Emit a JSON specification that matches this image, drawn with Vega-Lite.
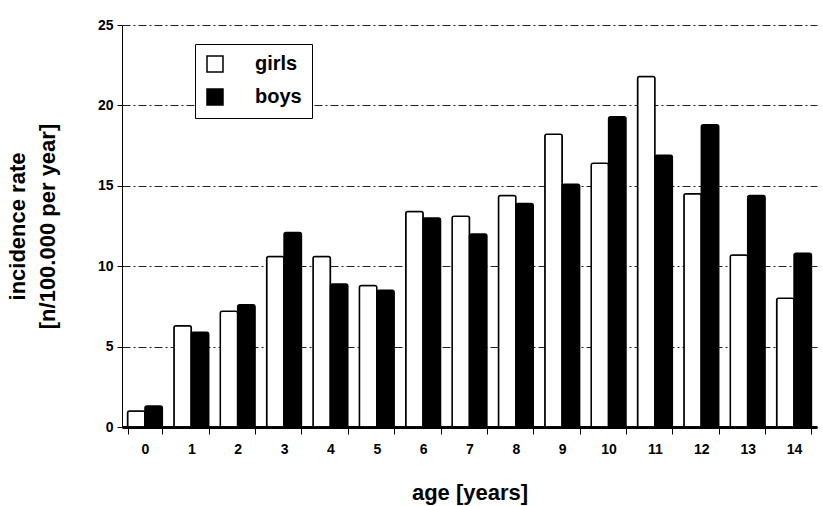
{
  "$schema": "https://vega.github.io/schema/vega-lite/v6.json",
  "width": 695,
  "height": 402,
  "autosize": {"type": "none"},
  "padding": {"left": 122, "top": 25, "right": 6, "bottom": 79},
  "background": "white",
  "config": {
    "font": "Liberation Sans",
    "view": {"stroke": null},
    "axis": {"labelFont": "Liberation Sans", "titleFont": "Liberation Sans", "labelColor": "black", "titleColor": "black", "domainColor": "black", "tickColor": "black"}
  },
  "data": {
    "values": [
      {"age": "0", "sex": "girls", "rate": 1.0},
      {"age": "0", "sex": "boys", "rate": 1.3},
      {"age": "1", "sex": "girls", "rate": 6.3},
      {"age": "1", "sex": "boys", "rate": 5.9},
      {"age": "2", "sex": "girls", "rate": 7.2},
      {"age": "2", "sex": "boys", "rate": 7.6},
      {"age": "3", "sex": "girls", "rate": 10.6},
      {"age": "3", "sex": "boys", "rate": 12.1},
      {"age": "4", "sex": "girls", "rate": 10.6},
      {"age": "4", "sex": "boys", "rate": 8.9},
      {"age": "5", "sex": "girls", "rate": 8.8},
      {"age": "5", "sex": "boys", "rate": 8.5},
      {"age": "6", "sex": "girls", "rate": 13.4},
      {"age": "6", "sex": "boys", "rate": 13.0},
      {"age": "7", "sex": "girls", "rate": 13.1},
      {"age": "7", "sex": "boys", "rate": 12.0},
      {"age": "8", "sex": "girls", "rate": 14.4},
      {"age": "8", "sex": "boys", "rate": 13.9},
      {"age": "9", "sex": "girls", "rate": 18.2},
      {"age": "9", "sex": "boys", "rate": 15.1},
      {"age": "10", "sex": "girls", "rate": 16.4},
      {"age": "10", "sex": "boys", "rate": 19.3},
      {"age": "11", "sex": "girls", "rate": 21.8},
      {"age": "11", "sex": "boys", "rate": 16.9},
      {"age": "12", "sex": "girls", "rate": 14.5},
      {"age": "12", "sex": "boys", "rate": 18.8},
      {"age": "13", "sex": "girls", "rate": 10.7},
      {"age": "13", "sex": "boys", "rate": 14.4},
      {"age": "14", "sex": "girls", "rate": 8.0},
      {"age": "14", "sex": "boys", "rate": 10.8}
    ]
  },
  "mark": {"type": "bar", "stroke": "black", "strokeWidth": 1.5, "cornerRadiusTopLeft": 2, "cornerRadiusTopRight": 2},
  "encoding": {
    "x": {
      "field": "age",
      "type": "ordinal",
      "sort": ["0","1","2","3","4","5","6","7","8","9","10","11","12","13","14"],
      "scale": {"paddingInner": 0.25, "paddingOuter": 0.12},
      "axis": {
        "title": "age [years]",
        "labelAngle": 0,
        "labelFontSize": 14,
        "labelFontWeight": "bold",
        "labelPadding": 8,
        "tickBand": "extent",
        "tickSize": 7,
        "domainWidth": 3,
        "titleFontSize": 22,
        "titleFontWeight": "bold",
        "titlePadding": 26
      }
    },
    "xOffset": {"field": "sex", "type": "nominal", "sort": ["girls", "boys"]},
    "y": {
      "field": "rate",
      "type": "quantitative",
      "scale": {"domain": [0, 25], "nice": false},
      "axis": {
        "title": ["incidence rate", "[n/100.000 per year]"],
        "values": [0, 5, 10, 15, 20, 25],
        "labelFontSize": 14,
        "labelFontWeight": "bold",
        "labelPadding": 4,
        "tickSize": 5,
        "grid": true,
        "gridColor": "#222",
        "gridDash": [8, 3, 2, 3],
        "gridWidth": 1,
        "titleFontSize": 22,
        "titleFontWeight": "bold",
        "titlePadding": 38,
        "titleLineHeight": 30
      }
    },
    "fill": {
      "field": "sex",
      "type": "nominal",
      "scale": {"domain": ["girls", "boys"], "range": ["white", "black"]},
      "legend": {
        "title": null,
        "orient": "none",
        "legendX": 73,
        "legendY": 19,
        "direction": "vertical",
        "symbolType": "square",
        "symbolSize": 256,
        "symbolStrokeColor": "black",
        "symbolStrokeWidth": 1.5,
        "labelFontSize": 20,
        "labelFontWeight": "bold",
        "labelOffset": 30,
        "labelColor": "black",
        "labelExpr": "datum.label + '         '",
        "rowPadding": 11,
        "padding": 10,
        "strokeColor": "black",
        "fillColor": "white",
        "labelLimit": 200,
        "columnPadding": 0
      }
    }
  }
}
